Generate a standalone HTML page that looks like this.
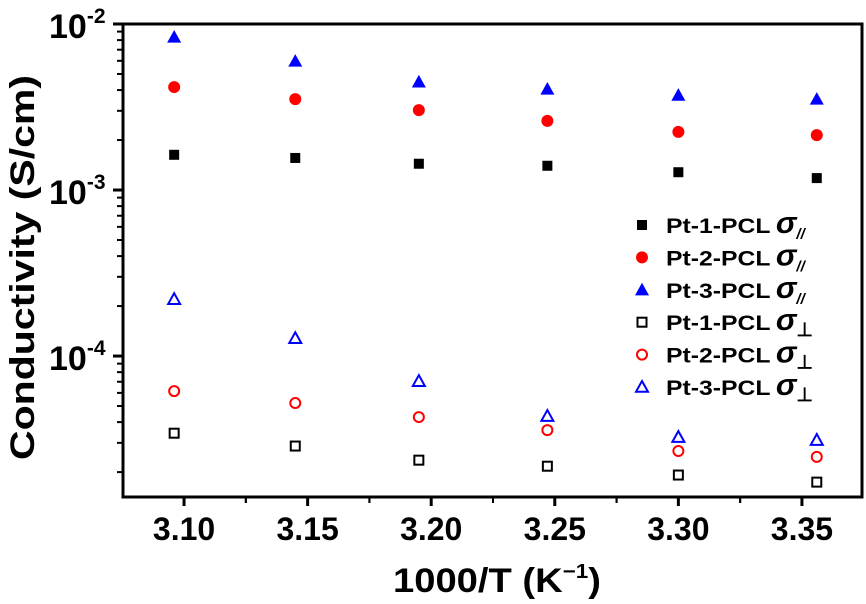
<!DOCTYPE html>
<html><head><meta charset="utf-8"><style>
body{margin:0;background:#fff}
svg{display:block;font-family:"Liberation Sans",Arial,sans-serif;font-weight:bold}
</style></head><body>
<svg id="chart" width="866" height="604" viewBox="0 0 866 604">
<g id="axes"></g><g id="marks"></g><g id="legend"></g>
<text x="393" y="592" font-size="34" textLength="208" lengthAdjust="spacingAndGlyphs">1000/T (K<tspan dy="-14" font-size="20">−1</tspan><tspan dy="14">)</tspan></text>
<text transform="translate(34,460) rotate(-90)" font-size="34" textLength="385" lengthAdjust="spacingAndGlyphs">Conductivity (S/cm)</text>
</svg>
<script>
const xValues=[3.096,3.145,3.195,3.247,3.300,3.356];
const seriesNames=["Pt-1-PCL","Pt-2-PCL","Pt-3-PCL","Pt-1-PCL","Pt-2-PCL","Pt-3-PCL"];
const pt1Par=[1.63e-3,1.56e-3,1.44e-3,1.40e-3,1.28e-3,1.18e-3];
const pt2Par=[4.17e-3,3.53e-3,3.03e-3,2.61e-3,2.24e-3,2.14e-3];
const pt3Par=[8.35e-3,5.98e-3,4.48e-3,4.06e-3,3.73e-3,3.53e-3];
const pt1Perp=[3.43e-5,2.87e-5,2.36e-5,2.17e-5,1.92e-5,1.74e-5];
const pt2Perp=[6.15e-5,5.21e-5,4.29e-5,3.58e-5,2.68e-5,2.47e-5];
const pt3Perp=[2.20e-4,1.28e-4,7.06e-5,4.35e-5,3.25e-5,3.12e-5];
const xTicks=[3.10,3.15,3.20,3.25,3.30,3.35];
const xTickLabels=["3.10","3.15","3.20","3.25","3.30","3.35"];
const yDecades=[-2,-3,-4];

const L=123,R=862,T=24,B=497;
const X0=3.0753,X1=3.3743,Ylog0=-4.849,Ylog1=-2;
const sx=v=>L+(v-X0)/(X1-X0)*(R-L);
const sy=v=>B-(Math.log10(v)-Ylog0)/(Ylog1-Ylog0)*(B-T);
const NS="http://www.w3.org/2000/svg";
function mk(tag,attrs,parent){const e=document.createElementNS(NS,tag);for(const k in attrs)e.setAttribute(k,attrs[k]);parent.appendChild(e);return e;}
const axes=document.getElementById('axes'),marks=document.getElementById('marks'),legend=document.getElementById('legend');

const frame=mk('rect',{x:L,y:T,width:R-L,height:B-T,fill:'none',stroke:'#000','stroke-width':3},axes);


xTicks.forEach((t,i)=>{
  const x=sx(t);
  const tk=mk('line',{x1:x,x2:x,y1:B,y2:B+9,stroke:'#000','stroke-width':3},axes);
  
  
  const lb=mk('text',{x:x,y:B+43,'font-size':32,'text-anchor':'middle'},axes);
  lb.textContent=xTickLabels[i];
  
  
  [t-0.025,t+0.025].forEach(m=>{if(sx(m)>L&&sx(m)<R){const mn=mk('line',{x1:sx(m),x2:sx(m),y1:B,y2:B+6,stroke:'#000','stroke-width':2},axes);
  
  }});
});
yDecades.forEach(d=>{
  const y=sy(Math.pow(10,d));
  const tk=mk('line',{x1:L-10,x2:L,y1:y,y2:y,stroke:'#000','stroke-width':3},axes);
  
  
  const lb=mk('text',{x:49,y:y+14,'font-size':34},axes);
  lb.innerHTML='10<tspan dy="-15" font-size="21">'+d+'</tspan>';
  
  
  for(let k=2;k<=9;k++){const v=k*Math.pow(10,d-1);const yy=sy(v);if(yy>T&&yy<B){
    const mn=mk('line',{x1:L-6,x2:L,y1:yy,y2:yy,stroke:'#000','stroke-width':2},axes);
    
    }}
});
function marker(shape,color,filled,x,y,parent){
  const f=filled?color:'none';
  if(shape==='s')return filled?mk('rect',{x:x-5,y:y-5,width:10,height:10,fill:color},parent):mk('rect',{x:x-4.5,y:y-4.5,width:9,height:9,fill:'none',stroke:color,'stroke-width':2},parent);
  if(shape==='c')return mk('circle',{cx:x,cy:y,r:filled?6:5,fill:f,stroke:filled?'none':color,'stroke-width':2},parent);
  const s=filled?7:6;
  return mk('polygon',{points:`${x},${y-s} ${x+s},${y+s*0.8} ${x-s},${y+s*0.8}`,fill:f,stroke:filled?'none':color,'stroke-width':2},parent);
}
const series=[[pt1Par,'s','#000',true],[pt2Par,'c','#f00',true],[pt3Par,'t','#00f',true],
 [pt1Perp,'s','#000',false],[pt2Perp,'c','#f00',false],[pt3Perp,'t','#00f',false]];
series.forEach((s,i)=>{
  s[0].forEach((v,j)=>{
    const m=marker(s[1],s[2],s[3],sx(xValues[j]),sy(v),marks);
    
    
  });
  const ly=225+i*32.4;
  const lm=marker(s[1],s[2],s[3],642,ly,legend);
  
  
  const lt=mk('text',{x:666,y:ly+8,'font-size':21},legend);
  lt.innerHTML='<tspan textLength="104" lengthAdjust="spacingAndGlyphs">'+seriesNames[i]+'</tspan> <tspan font-size="31" font-style="italic">σ</tspan>'+
   (s[3]?'<tspan dy="6" font-size="15" font-style="italic">//</tspan>':'<tspan dy="6" font-size="19">⊥</tspan>');
  
  
});
</script>
</body></html>
